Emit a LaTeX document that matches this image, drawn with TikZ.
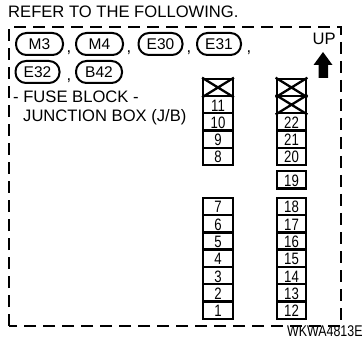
\documentclass[tikz,border=0pt]{standalone}
\usepackage{fontspec}
\setmainfont{Liberation Sans}
\newfontfamily\narrowsans[FakeStretch=0.8]{Liberation Sans}
\tikzset{
 lbl/.style={font=\fontsize{16.6}{16.6}\selectfont,inner sep=0pt,anchor=base west,text=black},
 pill/.style={draw,line width=2pt,rounded corners=10.5pt,minimum height=22pt,inner sep=0pt,font=\fontsize{15.5}{15.5}\selectfont,anchor=center},
 fuse/.style={draw,line width=2.3pt,minimum width=29.5pt,minimum height=17.3pt,inner sep=0pt,text height=13pt,text depth=0pt,font=\narrowsans\fontsize{16.5}{16.5}\selectfont},
 codelbl/.style={font=\narrowsans\fontsize{15.5}{15.5}\selectfont,inner sep=0pt,anchor=base west,text=black},
}
\newcommand{\fusebox}[3]{\node[fuse] (f#3) at (#1,#2) {#3};}
\newcommand{\xbox}[3]{\node[fuse] (#3) at (#1,#2) {};\draw[line width=2.3pt] (#3.north west)--(#3.south east) (#3.north east)--(#3.south west);}
\begin{document}
\begin{tikzpicture}[x=1pt,y=-1pt]
\useasboundingbox (0,0) rectangle (364,339);
\node[lbl] (title) at (8,17.5) {REFER TO THE FOLLOWING.};
\draw[line width=2pt,dash pattern=on 12pt off 7pt] (9,326) -- (9,27) -- (341,27) -- (341,326) -- cycle;
\node[pill,minimum width=47pt] (m3) at (39.5,44) {M3};
\node[pill,minimum width=47pt] (m4) at (99.5,44) {M4};
\node[pill,minimum width=44pt] (e30) at (160.5,44) {E30};
\node[pill,minimum width=44pt] (e31) at (219,44) {E31};
\node[pill,minimum width=44pt] (e32) at (37.5,72) {E32};
\node[pill,minimum width=46pt] (b42) at (99,72) {B42};
\node[lbl] (c1) at (66.5,53) {,};
\node[lbl] (c2) at (126.5,53) {,};
\node[lbl] (c3) at (186.5,53) {,};
\node[lbl] (c4) at (246.5,53) {,};
\node[lbl] (c5) at (66.5,81) {,};
\node[lbl] (t1) at (13,102.7) {- FUSE BLOCK -};
\node[lbl] (t2) at (23,121.3) {JUNCTION BOX (J/B)};
\node[lbl] (up) at (312.5,45) {UP};
\fill (323,52) -- (332.5,65) -- (328,65) -- (328,78) -- (318.5,78) -- (318.5,65) -- (313.5,65) -- cycle;
% left column
\xbox{218}{87.5}{xa}
\fusebox{218}{104.7}{11}
\fusebox{218}{122}{10}
\fusebox{218}{139.2}{9}
\fusebox{218}{156.5}{8}
\fusebox{218}{206.5}{7}
\fusebox{218}{223.8}{6}
\fusebox{218}{241}{5}
\fusebox{218}{258.2}{4}
\fusebox{218}{275.5}{3}
\fusebox{218}{292.7}{2}
\fusebox{218}{310}{1}
% right column
\xbox{291.5}{87.5}{xb}
\xbox{291.5}{104.7}{xc}
\fusebox{291.5}{122}{22}
\fusebox{291.5}{139.2}{21}
\fusebox{291.5}{156.5}{20}
\fusebox{291.5}{180}{19}
\fusebox{291.5}{206.5}{18}
\fusebox{291.5}{223.8}{17}
\fusebox{291.5}{241}{16}
\fusebox{291.5}{258.2}{15}
\fusebox{291.5}{275.5}{14}
\fusebox{291.5}{292.7}{13}
\fusebox{291.5}{310}{12}
\node[codelbl] (code) at (287,336.5) {WKWA4813E};
\end{tikzpicture}
\end{document}
